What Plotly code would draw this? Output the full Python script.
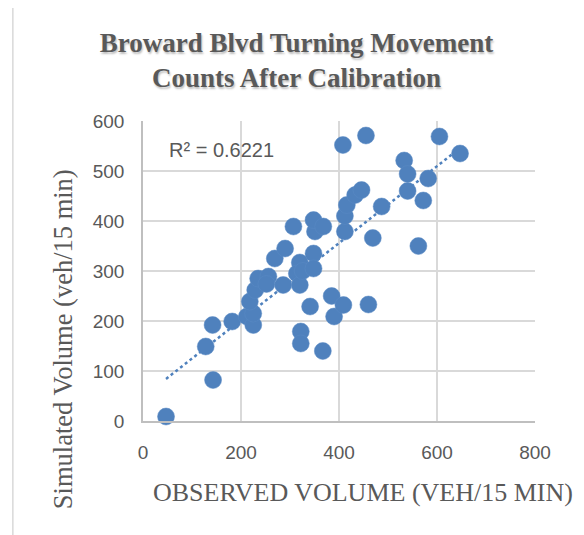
import numpy as np
import plotly.graph_objects as go

# observed vs simulated turning movement counts (veh/15 min)
observed = [47, 143, 128, 142, 182, 212, 225, 225, 218, 229, 235, 256, 252, 286,
            269, 290, 307, 320, 314, 320, 326, 348, 348, 351, 348, 368, 341, 322,
            322, 367, 385, 390, 409, 460, 408, 455, 412, 412, 416, 433, 446, 469,
            487, 533, 540, 540, 582, 572, 562, 605, 647]
simulated = [9, 82, 149, 192, 199, 209, 192, 215, 239, 262, 285, 289, 274, 272,
             325, 345, 389, 317, 295, 272, 300, 335, 305, 379, 402, 389, 229, 179,
             155, 140, 250, 209, 232, 233, 552, 571, 379, 410, 432, 452, 462, 366,
             429, 521, 494, 460, 485, 441, 350, 569, 535]

x_ticks = [0, 200, 400, 600, 800]
y_ticks = [0, 100, 200, 300, 400, 500, 600]

BLUE = "#4F81BD"
GREY = "#595959"

# linear trendline
slope, intercept = np.polyfit(observed, simulated, 1)
trend_x = [min(observed), max(observed)]
trend_y = [slope * v + intercept for v in trend_x]

fig = go.Figure()

fig.add_trace(go.Scatter(
    x=trend_x, y=trend_y, mode="lines",
    line=dict(color=BLUE, width=2.5, dash="dot"),
    hoverinfo="skip", showlegend=False
))

fig.add_trace(go.Scatter(
    x=observed, y=simulated, mode="markers",
    marker=dict(color=BLUE, size=17, line=dict(color="#5B8BC4", width=0.5)),
    cliponaxis=False, showlegend=False
))

serif = "Liberation Serif, Times New Roman"

fig.update_layout(
    width=584, height=535,
    margin=dict(l=135, r=57, t=113, b=122),
    paper_bgcolor="white", plot_bgcolor="white",
    font=dict(family="Liberation Sans, Arial", color=GREY),
    title=dict(
        text="Broward Blvd Turning Movement<br>Counts After Calibration",
        x=0.494, xanchor="center", y=0.918, yanchor="middle",
        font=dict(family=serif, size=27, color=GREY, weight="bold",
                  shadow="1px 2px 2px rgba(0,0,0,0.25)")
    ),
    shapes=[dict(type="rect", xref="paper", yref="paper",
                 x0=-0.332, x1=1.125, y0=-0.6, y1=1.385,
                 line=dict(color="#D9D9D9", width=1.5), layer="below")],
    annotations=[
        dict(text="R² = 0.6221", xref="paper", yref="paper",
             x=0.062, y=0.903, xanchor="left", yanchor="middle",
             showarrow=False, font=dict(size=20, color=GREY)),
        dict(text="OBSERVED VOLUME (VEH/15 MIN)", xref="paper", yref="paper",
             x=0.0215, y=-0.237, xanchor="left", yanchor="middle",
             showarrow=False,
             font=dict(family=serif, size=26, color=GREY)),
        dict(text="Simulated Volume (veh/15 min)", xref="paper", yref="paper",
             x=-0.204, y=0.273, xanchor="center", yanchor="middle",
             textangle=-90, showarrow=False,
             font=dict(family=serif, size=26.5, color=GREY)),
    ]
)

fig.update_xaxes(
    range=[0, 800], tickvals=x_ticks, showgrid=True, gridcolor="#D9D9D9",
    gridwidth=1.5, zeroline=False, showline=True, linecolor="#BFBFBF",
    linewidth=1.5, ticks="", tickfont=dict(size=19, color=GREY),
    ticklabelstandoff=13
)
fig.update_yaxes(
    range=[0, 600], tickvals=y_ticks, showgrid=True, gridcolor="#D9D9D9",
    gridwidth=1.5, zeroline=False, showline=True, linecolor="#BFBFBF",
    linewidth=1.5, ticks="", tickfont=dict(size=19, color=GREY),
    ticklabelstandoff=13
)

fig.write_html("out.html")
